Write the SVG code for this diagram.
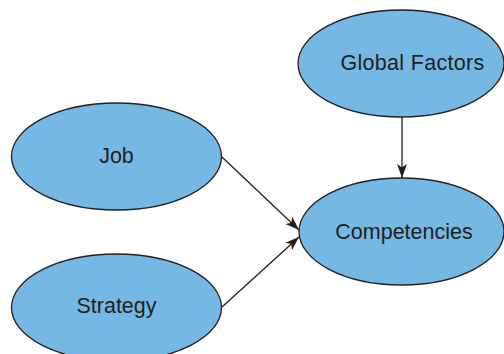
<svg xmlns="http://www.w3.org/2000/svg" width="504" height="354" viewBox="0 0 504 354">
  <style>
    .node ellipse { fill: #75b8e4; stroke: #231f20; stroke-width: 1.3; }
    .node text { font-family: "Liberation Sans", Arial, sans-serif; font-size: 21.5px; fill: #231f20; text-anchor: middle; }
    .edge { stroke: #231f20; stroke-width: 1.3; fill: none; marker-end: url(#arrow); }
  </style>
  <defs>
    <marker id="arrow" markerUnits="userSpaceOnUse" markerWidth="15" markerHeight="11" refX="14" refY="5.5" orient="auto" viewBox="0 0 15 11">
      <path d="M0,0.5 L14,5.5 L0,10.5 L3.5,5.5 Z" fill="#231f20"/>
    </marker>
  </defs>
  <rect width="504" height="354" fill="#ffffff"/>
  <g id="connectors">
    <line class="edge" x1="402" y1="117" x2="402" y2="178"/>
    <line class="edge" x1="222" y1="157" x2="299" y2="230"/>
    <line class="edge" x1="222" y1="307" x2="299" y2="237"/>
  </g>
  <g id="node-global-factors" class="node">
    <ellipse cx="401" cy="63.5" rx="103" ry="53.5"/>
    <text x="412.5" y="70" letter-spacing="0.3">Global Factors</text>
  </g>
  <g id="node-job" class="node">
    <ellipse cx="116.5" cy="156.5" rx="105" ry="53.5"/>
    <text x="116.5" y="163">Job</text>
  </g>
  <g id="node-competencies" class="node">
    <ellipse cx="401.5" cy="231.5" rx="102.5" ry="53.5"/>
    <text x="404" y="239">Competencies</text>
  </g>
  <g id="node-strategy" class="node">
    <ellipse cx="116.5" cy="307.5" rx="105" ry="53.5"/>
    <text x="116.5" y="313">Strategy</text>
  </g>
</svg>
